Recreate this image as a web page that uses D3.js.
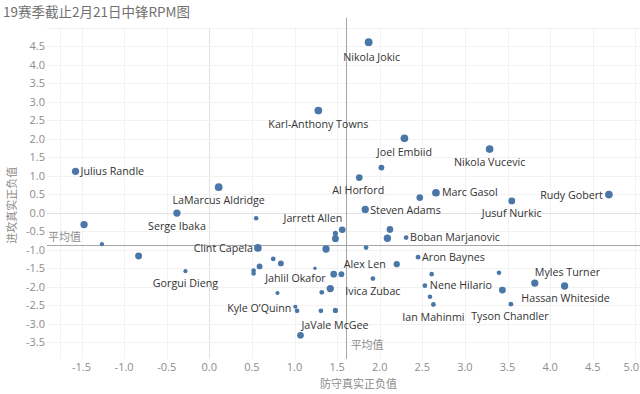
<!DOCTYPE html>
<html>
<head>
<meta charset="utf-8">
<script src="https://cdn.jsdelivr.net/npm/d3@7"></script>
<style>
  body { margin: 0; background: #fff; }
  svg { display: block; font-family: "Open Sans", sans-serif; }
  .tick-label { fill: #8c8c8c; font-size: 11px; }
  .cn { font-family: "Noto Sans CJK SC", sans-serif; fill: #8c8c8c; }
  .name { fill: #333; font-size: 10.7px; }
</style>
</head>
<body>
<svg></svg>
<script>
// defensive RPM (x), offensive RPM (y), minutes (dot size); label '' = unlabeled
const players = ['Nikola Jokic', 'Karl-Anthony Towns', 'Joel Embiid', 'Nikola Vucevic', 'Julius Randle',
  'LaMarcus Aldridge', 'Serge Ibaka', 'Rudy Gobert', 'Marc Gasol', 'Jusuf Nurkic', 'Al Horford',
  'Steven Adams', 'Jarrett Allen', 'Clint Capela', 'Boban Marjanovic', 'Aron Baynes', 'Alex Len',
  'Ivica Zubac', 'Nene Hilario', 'Ian Mahinmi', 'Tyson Chandler', 'Myles Turner', 'Hassan Whiteside',
  'Kyle O\u2019Quinn', 'JaVale McGee', 'Jahlil Okafor', 'Gorgui Dieng',
  '', '', '', '', '', '', '', '', '', '', '', '', '', '', '', '', '', '', '', '', '', '', '', '', '', '', '', '', ''];
const drpm = [1.87, 1.28, 2.29, 3.29, -1.57, 0.11, -0.38, 4.69, 2.66, 3.55, 1.76,
  1.83, 1.56, 0.57, 2.31, 2.45, 2.20, 1.92, 2.53, 2.63, 3.54, 3.82, 4.17,
  1.01, 1.07, 1.46, -0.28,
  -1.47, -1.26, -0.83, 0.55, 0.75, 0.84, 0.59, 0.52, 0.52, 1.37, 1.48, 1.48, 1.84, 1.24,
  1.55, 1.42, 1.32, 0.80, 1.03, 1.31, 1.48, 2.12, 2.09, 2.47, 2.02, 2.61, 2.59, 3.40, 3.44];
const orpm = [4.61, 2.76, 2.01, 1.72, 1.12, 0.69, -0.01, 0.49, 0.54, 0.32, 0.95,
  0.09, -0.46, -0.95, -0.67, -1.20, -1.39, -1.78, -1.97, -2.48, -2.47, -1.90, -1.98,
  -2.54, -3.31, -1.66, -1.58,
  -0.32, -0.85, -1.17, -0.15, -1.25, -1.37, -1.45, -1.56, -1.64, -0.98, -0.56, -0.70, -0.94, -1.50,
  -1.66, -2.05, -2.15, -2.17, -2.65, -2.65, -2.64, -0.45, -0.69, 0.41, 1.22, -1.66, -2.27, -1.62, -2.09];
const minutes = [1750, 1700, 1700, 1700, 1530, 1700, 1530, 1700, 1700, 1360, 1280,
  1530, 1280, 1700, 660, 660, 1120, 660, 660, 660, 660, 1530, 1530,
  500, 1280, 1280, 500,
  1530, 500, 1360, 600, 650, 980, 980, 600, 600, 1530, 780, 1360, 650, 320,
  980, 1530, 650, 500, 650, 650, 780, 1280, 1530, 1280, 980, 600, 600, 600, 1360];
const avgDrpm = 1.60;
const avgOrpm = -0.87;
const xTicks = d3.range(-1.5, 5.01, 0.5);
const yTicks = d3.range(-3.5, 4.51, 0.5);
const title = '19赛季截止2月21日中锋RPM图';

// label placement: anchor + offset from the dot
const place = {
  'Nikola Jokic': ['middle', 3, 15], 'Karl-Anthony Towns': ['middle', 0, 14], 'Joel Embiid': ['middle', 0, 13.5],
  'Nikola Vucevic': ['middle', 0, 13], 'Julius Randle': ['start', 5, 0], 'LaMarcus Aldridge': ['middle', 0, 13.5],
  'Serge Ibaka': ['middle', 0, 13], 'Rudy Gobert': ['end', -6, 1], 'Marc Gasol': ['start', 6, 0],
  'Jusuf Nurkic': ['middle', 0, 12], 'Al Horford': ['middle', -1, 12.5], 'Steven Adams': ['start', 5, 0.5],
  'Jarrett Allen': ['end', 0, -11], 'Clint Capela': ['end', -5, 0], 'Boban Marjanovic': ['start', 4, 0],
  'Aron Baynes': ['start', 4, 0], 'Alex Len': ['end', -11, 0], 'Ivica Zubac': ['middle', 0, 12.5],
  'Nene Hilario': ['start', 5, 0], 'Ian Mahinmi': ['middle', 0, 12.5], 'Tyson Chandler': ['middle', -1, 12.5],
  'Myles Turner': ['start', 0, -11], 'Hassan Whiteside': ['middle', 1, 12], 'Kyle O\u2019Quinn': ['end', -4, 1.5],
  'JaVale McGee': ['start', 1, -9.5], 'Jahlil Okafor': ['end', -8, 4], 'Gorgui Dieng': ['middle', 0, 12]
};

const data = players.map((p, i) => ({ name: p, d: drpm[i], o: orpm[i], m: minutes[i] }));

const width = 640, height = 394;
const svg = d3.select('svg').attr('width', width).attr('height', height);

const x = d3.scaleLinear().domain([-1.905, 5.055]).range([47, 640]);
const y = d3.scaleLinear().domain([-3.95, 5.0]).range([358.9, 27.7]);
const r = d3.scaleSqrt().domain([0, 1750]).range([0, 3.9]);

const fmt = v => v.toFixed(1);

svg.append('text')
  .attr('x', 3).attr('y', 17)
  .attr('font-family', '"Noto Sans CJK SC", sans-serif')
  .attr('font-size', 13.5).attr('fill', '#707070')
  .text(title);

// grid
const grid = svg.append('g');
grid.selectAll('.gx').data(xTicks.concat([-1.75])).enter().append('line')
  .attr('x1', d => Math.round(x(d)) + 0.5).attr('x2', d => Math.round(x(d)) + 0.5)
  .attr('y1', y.range()[1]).attr('y2', y.range()[0])
  .attr('stroke', d => Math.abs(d) < 1e-9 ? '#e2e2e2' : '#f2f2f2');
grid.selectAll('.gy').data(yTicks.concat([5.0])).enter().append('line')
  .attr('x1', x.range()[0]).attr('x2', x.range()[1])
  .attr('y1', d => Math.round(y(d)) + 0.5).attr('y2', d => Math.round(y(d)) + 0.5)
  .attr('stroke', d => Math.abs(d) < 1e-9 ? '#e2e2e2' : '#f2f2f2');

// average reference lines
svg.append('line')
  .attr('x1', Math.round(x(avgDrpm)) + 0.5).attr('x2', Math.round(x(avgDrpm)) + 0.5)
  .attr('y1', y.range()[1] - 10).attr('y2', y.range()[0])
  .attr('stroke', '#a6a6a6');
svg.append('line')
  .attr('x1', x.range()[0]).attr('x2', x.range()[1])
  .attr('y1', Math.round(y(avgOrpm)) + 0.5).attr('y2', Math.round(y(avgOrpm)) + 0.5)
  .attr('stroke', '#a6a6a6');
svg.append('text').attr('class', 'cn')
  .attr('x', x.range()[0] + 1).attr('y', y(avgOrpm) - 4)
  .attr('font-size', 11).text('平均值');
svg.append('text').attr('class', 'cn')
  .attr('x', x(avgDrpm) + 5).attr('y', y.range()[0] - 10)
  .attr('font-size', 11).text('平均值');

// axes labels
svg.append('g').selectAll('text').data(xTicks).enter().append('text')
  .attr('class', 'tick-label')
  .attr('x', (d, i) => i === xTicks.length - 1 ? 639 : x(d)).attr('y', 371)
  .attr('text-anchor', (d, i) => i === xTicks.length - 1 ? 'end' : 'middle')
  .text(fmt);
svg.append('g').selectAll('text').data(yTicks).enter().append('text')
  .attr('class', 'tick-label')
  .attr('x', 45).attr('y', d => y(d) + 4)
  .attr('text-anchor', 'end')
  .text(fmt);

svg.append('text').attr('class', 'cn')
  .attr('x', (x(-1.5) + x(5.0)) / 2).attr('y', 388)
  .attr('text-anchor', 'middle').attr('font-size', 11)
  .text('防守真实正负值');
svg.append('text').attr('class', 'cn')
  .attr('transform', `translate(16, ${y(0.2)}) rotate(-90)`)
  .attr('text-anchor', 'middle').attr('font-size', 11)
  .text('进攻真实正负值');

// dots
svg.append('g').selectAll('circle').data(data).enter().append('circle')
  .attr('cx', d => x(d.d)).attr('cy', d => y(d.o))
  .attr('r', d => r(d.m))
  .attr('fill', '#4a76a8');

// player names
svg.append('g').selectAll('text').data(data.filter(d => d.name)).enter().append('text')
  .attr('class', 'name')
  .attr('x', d => x(d.d) + place[d.name][1])
  .attr('y', d => y(d.o) + place[d.name][2])
  .attr('dy', '0.35em')
  .attr('text-anchor', d => place[d.name][0])
  .text(d => d.name);
</script>
</body>
</html>
